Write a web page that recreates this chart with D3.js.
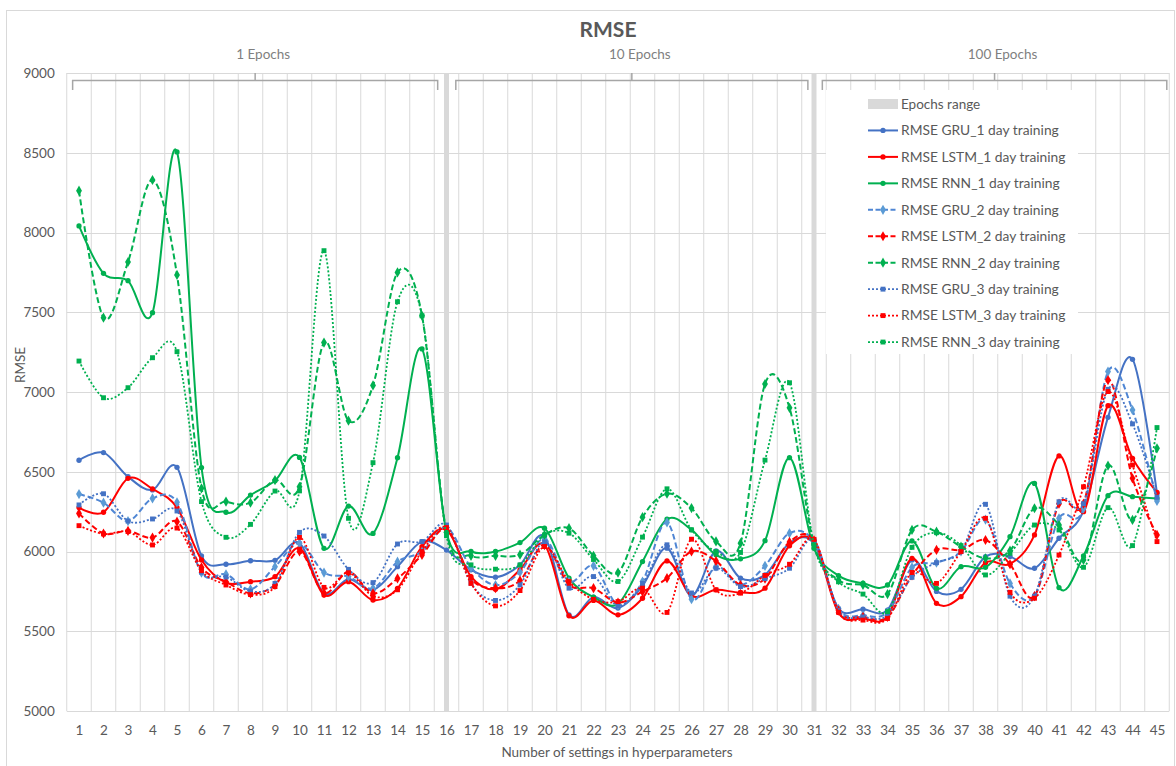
<!DOCTYPE html>
<html><head><meta charset="utf-8">
<script src="https://cdn.jsdelivr.net/npm/d3@7"></script>
<style>body{margin:0;background:#fff;} svg{display:block;font-family:Lato,"Open Sans",sans-serif;}</style>
</head><body>
<svg id="chart" width="1176" height="766"></svg>
<script>
const categories = d3.range(1, 46);
const yTicks = [5000, 5500, 6000, 6500, 7000, 7500, 8000, 8500, 9000];
const epochGroups = ["1 Epochs", "10 Epochs", "100 Epochs"];
const epochStart = [0.74, 16.38, 31.34];
const epochEnd = [15.64, 30.75, 45.4];
const epochRangeAt = [16, 31];

const gru1 = [6572,6620,6469,6386,6528,5972,5920,5942,5945,6053,5738,5826,5759,5905,6062,6009,
  5885,5839,5916,6094,5603,5714,5645,5785,6021,5722,6004,5833,5854,6052,6050,
  5644,5638,5633,5947,5750,5763,5968,5968,5895,6083,6256,6841,7205,6365];
const lstm1 = [6275,6246,6459,6392,6275,5947,5805,5811,5842,6020,5727,5811,5696,5769,6030,6135,
  5843,5764,5885,6042,5597,5693,5603,5707,5941,5722,5760,5743,5770,6036,6060,
  5617,5581,5592,5957,5675,5717,5930,5922,6104,6599,6250,6914,6584,6370];
const rnn1 = [8041,7744,7698,7497,8505,6526,6246,6354,6444,6590,6020,6285,6113,6588,7270,6120,
  6000,6000,6056,6146,5833,5714,5672,5937,6203,6136,5979,5954,6068,6588,6020,
  5849,5801,5790,6066,5769,5905,5901,6093,6427,5774,5972,6350,6344,6333];
const gru2 = [6360,6306,6191,6333,6308,5867,5857,5763,5905,6051,5868,5842,5769,5936,5999,6150,
  5900,5790,5870,6080,5812,5910,5666,5812,6182,5701,5906,5791,5910,6115,6060,
  5640,5600,5620,5900,5930,6000,6200,5800,5720,6208,6270,7128,6887,6317];
const lstm2 = [6239,6113,6129,6087,6187,5900,5810,5738,5790,6000,5740,5873,5738,5831,5978,6140,
  5830,5770,5818,6040,5791,5770,5680,5749,5833,6000,5940,5790,5830,6060,6070,
  5630,5590,5590,5850,6010,6010,6072,5920,5720,6300,6300,7075,6459,6104];
const rnn2 = [8262,7466,7815,8329,7734,6396,6313,6306,6448,6406,7310,6820,7041,7750,7478,6120,
  5973,5973,5980,6104,6146,5973,5868,6215,6362,6272,6063,6052,7050,6901,6040,
  5821,5790,5733,6135,6124,6030,5957,6005,6271,6166,5947,6538,6198,6647];
const gru3 = [6292,6362,6191,6204,6254,5870,5840,5750,5800,6120,6097,5888,5805,6047,6062,6166,
  5801,5693,5790,6060,5770,5843,5660,5800,6042,5740,5895,5780,5830,5895,6070,
  5630,5590,5600,5838,5930,6000,6296,5720,5720,6312,6300,7017,6800,6340];
const lstm3 = [6162,6110,6125,6041,6147,5880,5790,5730,5780,6088,5775,5867,5720,5760,6000,6150,
  5800,5659,5755,6031,5812,5700,5686,5770,5618,6077,5760,5739,5850,5920,6076,
  5620,5570,5580,5869,5800,6000,6208,5744,5707,5978,6406,7003,6542,6062];
const rnn3 = [7194,6964,7027,7215,7253,6313,6089,6170,6379,6380,7886,6208,6557,7566,7478,6100,
  5916,5889,5916,6104,6115,5950,5812,6090,6393,6136,6000,5994,6573,7058,6040,
  5810,5733,5623,6026,6118,6037,5853,5989,6166,6135,5901,6275,6037,6777];

const seriesNames = ["RMSE GRU_1 day training","RMSE LSTM_1 day training","RMSE RNN_1 day training",
  "RMSE GRU_2 day training","RMSE LSTM_2 day training","RMSE RNN_2 day training",
  "RMSE GRU_3 day training","RMSE LSTM_3 day training","RMSE RNN_3 day training"];
const seriesValues = [gru1, lstm1, rnn1, gru2, lstm2, rnn2, gru3, lstm3, rnn3];
const seriesColors = ["#4472C4","#FF0000","#00B050","#4F86D4","#FF0000","#00B050","#4472C4","#FF0000","#00B050"];
const markerColors = ["#4472C4","#FF0000","#00B050","#5B9BD5","#FF0000","#00B050","#4472C4","#FF0000","#00B050"];
const seriesDash = [null,null,null,"6,3","6,3","6,3","2,2","2,2","2,2"];
const seriesMarker = ["circle","circle","circle","diamond","diamond","diamond","square","square","square"];

(function(){
const svg = d3.select("#chart");
const pl = 66.75, pr = 1169.25, pt = 73, pb = 711;
const x = d3.scaleLinear().domain([0.5, 45.5]).range([pl, pr]);
const y = d3.scaleLinear().domain([5000, 9000]).range([pb, pt]);

svg.append("rect").attr("x",6.5).attr("y",10.5).attr("width",1168).attr("height",762)
  .attr("fill","#fff").attr("stroke","#d9d9d9");

const grid = svg.append("g");
grid.selectAll("line.h").data(yTicks).join("line")
  .attr("x1",pl).attr("x2",pr).attr("y1",d=>Math.round(y(d))+0.5).attr("y2",d=>Math.round(y(d))+0.5)
  .attr("stroke","#d9d9d9").attr("stroke-width",1);
grid.selectAll("line.v").data(d3.range(0, 46)).join("line")
  .attr("x1",d=>x(d+0.5)).attr("x2",d=>x(d+0.5)).attr("y1",pt).attr("y2",pb)
  .attr("stroke","#d9d9d9").attr("stroke-width",1);

const yAxis = d3.axisLeft(y).tickValues(yTicks).tickSize(0).tickPadding(12).tickFormat(d3.format("d"));
const gy = svg.append("g").attr("transform",`translate(${pl},0)`).call(yAxis);
gy.select(".domain").remove();
gy.selectAll("text").attr("font-size",13.5).attr("fill","#595959").attr("font-family","Lato");

const xAxis = d3.axisBottom(x).tickValues(categories).tickSize(0).tickPadding(14).tickFormat(d3.format("d"));
const gx = svg.append("g").attr("transform",`translate(0,${pb})`).call(xAxis);
gx.select(".domain").remove();
gx.selectAll("text").attr("font-size",13.5).attr("fill","#595959").attr("font-family","Lato");

svg.selectAll("line.er").data(epochRangeAt).join("line")
  .attr("x1",d=>x(d)).attr("x2",d=>x(d)).attr("y1",pt).attr("y2",pb)
  .attr("stroke","#d9d9d9").attr("stroke-width",5);

const br = svg.append("g");
epochGroups.forEach((g,i)=>{
  const x0 = x(epochStart[i]), x1 = x(epochEnd[i]), xm = (x0+x1)/2;
  br.append("path").attr("d",`M${x0},90V80.5H${x1}V90M${xm},80.5V73`)
    .attr("fill","none").attr("stroke","#a6a6a6").attr("stroke-width",1.5);
  br.append("text").attr("x",xm+8).attr("y",59).attr("text-anchor","middle")
    .attr("font-size",13.5).attr("fill","#7f7f7f").text(g);
});

const line = d3.line().x((d,i)=>x(categories[i])).y(d=>y(d)).curve(d3.curveCatmullRom.alpha(0));
const sym = {circle:d3.symbolCircle, diamond:d3.symbolDiamond, square:d3.symbolSquare};
const symSize = {circle:22, diamond:30, square:24};
seriesValues.forEach((vals,k)=>{
  const g = svg.append("g");
  g.append("path").attr("d",line(vals)).attr("fill","none")
    .attr("stroke",seriesColors[k]).attr("stroke-width",seriesDash[k]==="2,2"?1.8:2)
    .attr("stroke-dasharray",seriesDash[k]);
  g.selectAll("path.m").data(vals).join("path")
    .attr("transform",(d,i)=>`translate(${x(categories[i])},${y(d)})`)
    .attr("d",d3.symbol().type(sym[seriesMarker[k]]).size(symSize[seriesMarker[k]]))
    .attr("fill",markerColors[k]);
});

const lg = svg.append("g");
lg.append("rect").attr("x",826).attr("y",90).attr("width",252).attr("height",264).attr("fill","#fff");
const ly0 = 104, ldy = 26.45;
lg.append("rect").attr("x",868).attr("y",ly0-5).attr("width",30).attr("height",10).attr("fill","#d9d9d9");
lg.append("text").attr("x",901).attr("y",ly0).attr("dy","0.35em").attr("font-size",13.5).attr("fill","#595959").text("Epochs range");
seriesNames.forEach((n,k)=>{
  const yy = ly0 + ldy*(k+1);
  lg.append("line").attr("x1",868).attr("x2",898).attr("y1",yy).attr("y2",yy)
    .attr("stroke",seriesColors[k]).attr("stroke-width",seriesDash[k]==="2,2"?1.8:2)
    .attr("stroke-dasharray",seriesDash[k]==="6,3"?"5,2.5":seriesDash[k]);
  lg.append("path").attr("transform",`translate(883,${yy})`)
    .attr("d",d3.symbol().type(sym[seriesMarker[k]]).size(symSize[seriesMarker[k]])).attr("fill",markerColors[k]);
  lg.append("text").attr("x",901).attr("y",yy).attr("dy","0.35em").attr("font-size",13.8).attr("fill","#595959").text(n);
});

svg.append("text").attr("x",608).attr("y",37).attr("text-anchor","middle").attr("font-size",21)
  .attr("font-weight","bold").attr("fill","#595959").text("RMSE");
svg.append("text").attr("x",617).attr("y",757).attr("text-anchor","middle").attr("font-size",13.5)
  .attr("fill","#595959").text("Number of settings in hyperparameters");
svg.append("text").attr("transform","translate(25,365) rotate(-90)").attr("text-anchor","middle")
  .attr("font-size",13.5).attr("fill","#595959").text("RMSE");
})();
</script>
</body></html>
